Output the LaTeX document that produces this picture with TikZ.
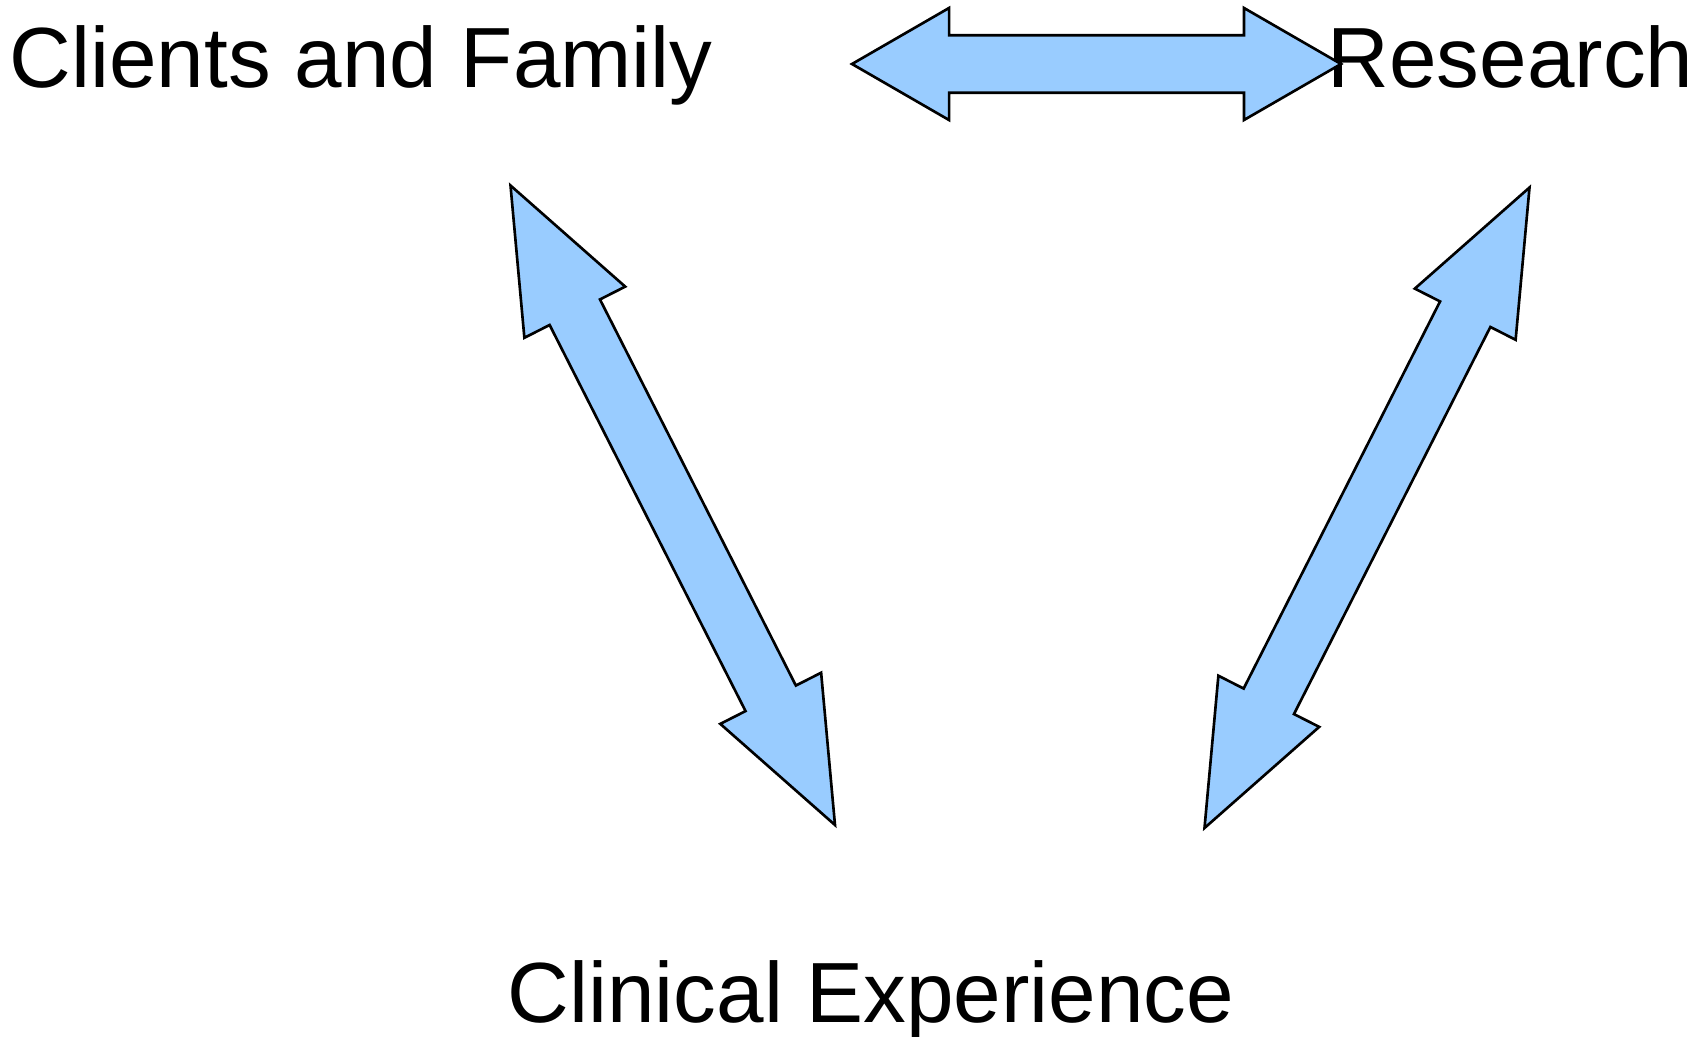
\documentclass[tikz,border=0pt]{standalone}
\usepackage{fontspec}
\setmainfont{Liberation Sans}
\usetikzlibrary{calc}
\definecolor{arrowblue}{HTML}{99CCFF}
\begin{document}
\begin{tikzpicture}[
  x=0.01cm, y=-0.01cm,
  word/.style={font=\fontsize{24.3}{28}\selectfont, inner sep=0pt, anchor=base west},
  blockarrow/.style n args={3}{draw=black, line width=0.75pt, fill=arrowblue, line join=miter,
    to path={
      -- ($(\tikztostart)!#1!(\tikztotarget)!#2!90:(\tikztotarget)$)
      -- ($(\tikztostart)!#1!(\tikztotarget)!#3!90:(\tikztotarget)$)
      -- ($(\tikztotarget)!#1!(\tikztostart)!#3!-90:(\tikztostart)$)
      -- ($(\tikztotarget)!#1!(\tikztostart)!#2!-90:(\tikztostart)$)
      -- (\tikztotarget)
      -- ($(\tikztotarget)!#1!(\tikztostart)!#2!90:(\tikztostart)$)
      -- ($(\tikztotarget)!#1!(\tikztostart)!#3!90:(\tikztostart)$)
      -- ($(\tikztostart)!#1!(\tikztotarget)!#3!-90:(\tikztotarget)$)
      -- ($(\tikztostart)!#1!(\tikztotarget)!#2!-90:(\tikztotarget)$)
      -- cycle}},
]
\useasboundingbox (0,0) rectangle (1700,1036);

% Labels
\node[word] (cf) at (9,87) {Clients and Family};
\node[word] (res) at (1327,87) {Research};
\node[word] (clin) at (507,1022) {Clinical Experience};

% Arrow ends
\coordinate (top_l) at (852,64);
\coordinate (top_r) at (1341,64);
\coordinate (left_t) at (510.5,185.5);
\coordinate (left_b) at (835,825);
\coordinate (right_t) at (1529.5,187.5);
\coordinate (right_b) at (1204.5,828);

% Double block arrows
\draw[blockarrow={0.97cm}{0.56cm}{0.287cm}] (top_l) to (top_r);
\draw[blockarrow={1.42cm}{0.565cm}{0.282cm}] (left_t) to (left_b);
\draw[blockarrow={1.42cm}{0.565cm}{0.282cm}] (right_t) to (right_b);

\end{tikzpicture}
\end{document}
